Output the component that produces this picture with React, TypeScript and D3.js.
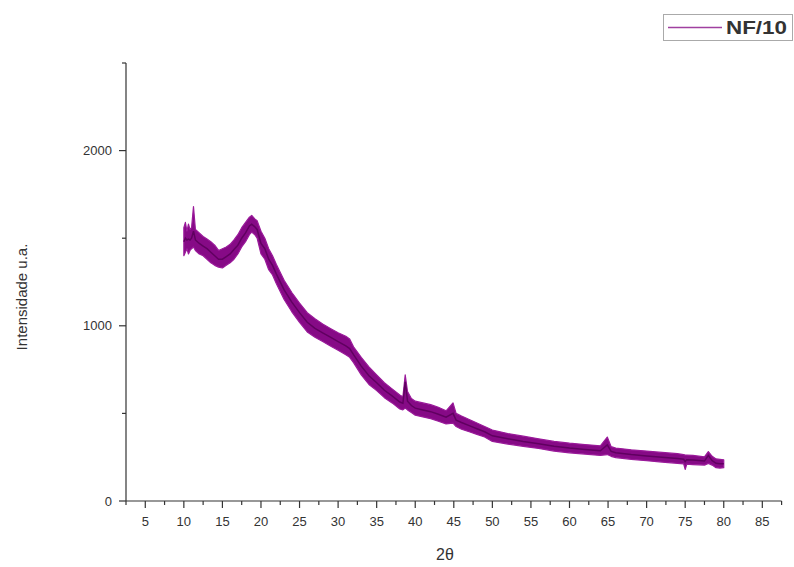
import React from "react";
import * as d3 from "d3";

const twoTheta = [10, 10.2, 10.4, 10.6, 10.8, 11, 11.25, 11.5, 12, 12.5, 13, 13.5, 14, 14.5, 15, 15.5, 16, 16.5, 17, 17.5, 18, 18.5, 18.8, 19.2, 19.5, 20, 20.5, 21, 21.5, 22, 23, 24, 25, 26, 27, 28, 29, 30, 31, 31.5, 32, 33, 34, 35, 36, 37, 38, 38.4, 38.7, 39, 39.5, 40, 41, 42, 43, 44, 44.9, 45.3, 46, 47, 48, 49, 50, 52, 54, 56, 58, 60, 62, 64, 64.9, 65.4, 66, 68, 70, 72, 74, 74.8, 75, 75.2, 76, 77.5, 78, 78.5, 79, 79.5, 80];
const upper = [1560, 1590, 1540, 1580, 1550, 1560, 1680, 1550, 1530, 1510, 1495, 1480, 1460, 1430, 1440, 1450, 1465, 1490, 1520, 1560, 1590, 1620, 1630, 1610, 1600, 1540, 1500, 1440, 1400, 1350, 1260, 1190, 1130, 1075, 1040, 1010, 985, 960, 940, 925, 880, 820, 765, 720, 675, 640, 605, 595, 720, 625, 585, 570, 560, 550, 535, 515, 560, 500, 485, 465, 445, 425, 405, 385, 370, 355, 340, 330, 322, 315, 365, 310, 302, 292, 285, 277, 270, 265, 262, 262, 260, 252, 282, 255, 240, 238, 235];
const lower = [1400, 1420, 1440, 1410, 1430, 1440, 1450, 1430, 1410, 1400, 1380, 1360, 1345, 1335, 1330, 1345, 1360, 1380, 1410, 1450, 1480, 1520, 1535, 1520, 1500, 1410, 1380, 1320, 1290, 1240, 1150, 1080, 1020, 965, 935, 910, 885, 860, 835, 820, 790, 720, 665, 630, 590, 560, 525, 520, 530, 520, 505, 490, 480, 470, 455, 440, 445, 425, 410, 395, 380, 365, 340, 325, 312, 300, 285, 275, 268, 260, 265, 255, 248, 238, 230, 222, 215, 212, 180, 210, 208, 205, 215, 205, 190, 188, 190];
const center = [1480, 1500, 1490, 1495, 1490, 1500, 1540, 1490, 1470, 1455, 1440, 1420, 1400, 1380, 1380, 1395, 1410, 1435, 1460, 1500, 1530, 1570, 1580, 1565, 1550, 1470, 1440, 1380, 1345, 1295, 1205, 1135, 1075, 1020, 985, 960, 935, 910, 885, 870, 835, 770, 715, 675, 632, 600, 565, 558, 680, 570, 545, 530, 520, 510, 495, 478, 500, 462, 448, 430, 412, 395, 372, 355, 340, 327, 312, 302, 294, 287, 320, 283, 275, 265, 257, 250, 242, 238, 225, 236, 234, 228, 260, 230, 215, 212, 212];

const xTicks = [5, 10, 15, 20, 25, 30, 35, 40, 45, 50, 55, 60, 65, 70, 75, 80, 85];
const xMinor = [2.5, 7.5, 12.5, 17.5, 22.5, 27.5, 32.5, 37.5, 42.5, 47.5, 52.5, 57.5, 62.5, 67.5, 72.5, 77.5, 82.5, 87.5];
const yTicks = [0, 1000, 2000];
const yMinor = [500, 1500, 2500];

const seriesName = "NF/10";
const xTitle = "2θ";
const yTitle = "Intensidade u.a.";

export default function App() {
  const W = 794, H = 567;
  const x = d3.scaleLinear().domain([2.5, 87.5]).range([126, 781.6]);
  const y = d3.scaleLinear().domain([0, 2500]).range([501, 63]);
  const idx = twoTheta.map((_, i) => i);
  const area = d3.area<number>()
    .x((i) => x(twoTheta[i]))
    .y0((i) => y(lower[i]))
    .y1((i) => y(upper[i]));
  const line = d3.line<number>()
    .x((i) => x(twoTheta[i]))
    .y((i) => y(center[i]));
  const axisColor = "#333";
  const font = "Liberation Sans, Arial, sans-serif";
  return (
    <svg width={W} height={H} style={{ position: "absolute", left: 0, top: 0, background: "#fff" }}>
      <rect x={0} y={0} width={W} height={H} fill="#fff" />
      <path d={area(idx) || ""} fill="#860a86" stroke="#9a1a9a" strokeWidth={1.2} strokeLinejoin="round" />
      <path d={line(idx) || ""} fill="none" stroke="#600060" strokeWidth={1.5} />
      <line x1={126} x2={126} y1={63} y2={501} stroke={axisColor} strokeWidth={1.2} />
      <line x1={126} x2={781.6} y1={501} y2={501} stroke={axisColor} strokeWidth={1.2} />
      {xTicks.map((t) => (
        <g key={"xt" + t}>
          <line x1={x(t)} x2={x(t)} y1={501} y2={508} stroke={axisColor} strokeWidth={1.2} />
          <text x={x(t)} y={526} textAnchor="middle" fontFamily={font} fontSize={13} fill="#333">{t}</text>
        </g>
      ))}
      {xMinor.map((t) => (
        <line key={"xm" + t} x1={x(t)} x2={x(t)} y1={501} y2={505} stroke={axisColor} strokeWidth={1.2} />
      ))}
      {yTicks.map((t) => (
        <g key={"yt" + t}>
          <line x1={119} x2={126} y1={y(t)} y2={y(t)} stroke={axisColor} strokeWidth={1.2} />
          <text x={112} y={y(t) + 4.5} textAnchor="end" fontFamily={font} fontSize={13} fill="#333">{t}</text>
        </g>
      ))}
      {yMinor.map((t) => (
        <line key={"ym" + t} x1={122} x2={126} y1={y(t)} y2={y(t)} stroke={axisColor} strokeWidth={1.2} />
      ))}
      <text x={445} y={560} textAnchor="middle" fontFamily={font} fontSize={16} fill="#333">{xTitle}</text>
      <text transform="translate(27,297) rotate(-90)" textAnchor="middle" fontFamily={font} fontSize={15} fill="#333">{yTitle}</text>
      <rect x={663.5} y={14.5} width={129} height={26} fill="#fff" stroke="#aaa" strokeWidth={1} />
      <line x1={668} x2={722} y1={27.5} y2={27.5} stroke="#a040a0" strokeWidth={1.3} />
      <text x={726} y={34} fontFamily={font} fontSize={18} fontWeight="bold" fill="#333" textLength={61} lengthAdjust="spacingAndGlyphs">{seriesName}</text>
    </svg>
  );
}
